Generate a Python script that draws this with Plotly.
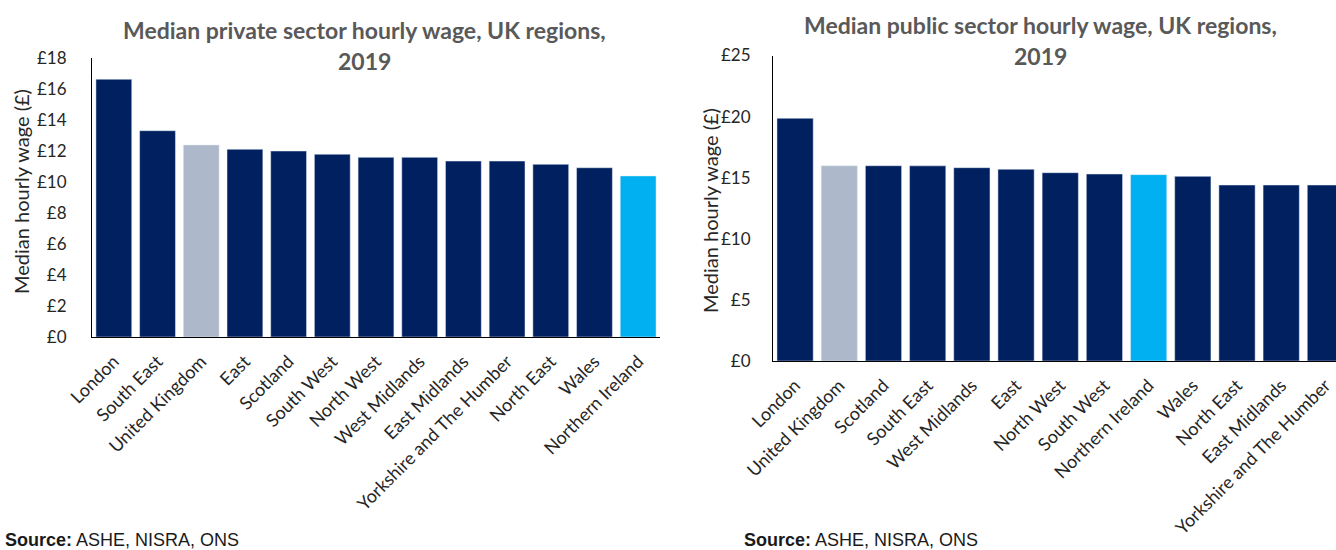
import plotly.graph_objects as go

# Median private sector hourly wage by region, 2019 (£)
private_regions = ["London", "South East", "United Kingdom", "East", "Scotland",
                   "South West", "North West", "West Midlands", "East Midlands",
                   "Yorkshire and The Humber", "North East", "Wales", "Northern Ireland"]
private_wage = [16.63, 13.31, 12.39, 12.11, 12.00, 11.79, 11.59, 11.59, 11.35,
                11.35, 11.14, 10.92, 10.39]

# Median public sector hourly wage by region, 2019 (£)
public_regions = ["London", "United Kingdom", "Scotland", "South East", "West Midlands",
                  "East", "North West", "South West", "Northern Ireland", "Wales",
                  "North East", "East Midlands", "Yorkshire and The Humber"]
public_wage = [19.86, 15.98, 15.98, 15.97, 15.82, 15.69, 15.41, 15.30, 15.25,
               15.11, 14.40, 14.40, 14.40]

private_ticks = [0, 2, 4, 6, 8, 10, 12, 14, 16, 18]
public_ticks = [0, 5, 10, 15, 20, 25]

NAVY = "#002060"
UK_GREY = "#ADB9CA"
NI_BLUE = "#00B0F0"


def bar_colours(regions):
    out = []
    for r in regions:
        if r == "United Kingdom":
            out.append(UK_GREY)
        elif r == "Northern Ireland":
            out.append(NI_BLUE)
        else:
            out.append(NAVY)
    return out


W, H = 1336, 550
FONT = "Lato, Calibri, Carlito, sans-serif"

fig = go.Figure()
fig.add_trace(go.Bar(x=private_regions, y=private_wage, marker_color=bar_colours(private_regions),
                     xaxis="x", yaxis="y", showlegend=False))
fig.add_trace(go.Bar(x=public_regions, y=public_wage, marker_color=bar_colours(public_regions),
                     xaxis="x2", yaxis="y2", showlegend=False))


def px(x):
    return x / W


def py(y):
    return 1 - y / H


y_common = dict(showgrid=False, zeroline=False, showline=True, linecolor="black",
                linewidth=1, ticks="", automargin=False,
                tickfont=dict(family=FONT, size=17, color="#262626"))
x_common = dict(showgrid=False, zeroline=False, showline=True, linecolor="black",
                linewidth=1, ticks="", automargin=False, tickangle=-45,
                ticklabelstandoff=6, tickfont=dict(family=FONT, size=18, color="#262626"))

fig.update_layout(
    width=W, height=H, margin=dict(l=0, r=0, t=0, b=0, autoexpand=False),
    paper_bgcolor="white", plot_bgcolor="white", bargap=0.18,
    xaxis=dict(domain=[px(92), px(660)], anchor="y", range=[-0.5, 12.5], **x_common),
    yaxis=dict(domain=[py(337), py(58)], anchor="x", range=[0, 18],
               tickvals=private_ticks, ticktext=[f"£{v}" for v in private_ticks],
               ticklabelstandoff=21, **y_common),
    xaxis2=dict(domain=[px(773), 1], anchor="y2", range=[-0.5, 12.24], **x_common),
    yaxis2=dict(domain=[py(361), py(55.5)], anchor="x2", range=[0, 25],
                tickvals=public_ticks, ticktext=[f"£{v}" for v in public_ticks],
                ticklabelstandoff=18, **y_common),
)

title_font = dict(family=FONT, size=23, color="#595959")
ann = [
    dict(text="<b>Median private sector hourly wage, UK regions,</b>", x=px(365), y=py(30)),
    dict(text="<b>2019</b>", x=px(365), y=py(61)),
    dict(text="<b>Median public sector hourly wage, UK regions,</b>", x=px(1040), y=py(25)),
    dict(text="<b>2019</b>", x=px(1040), y=py(56)),
]
for a in ann:
    fig.add_annotation(xref="paper", yref="paper", showarrow=False, xanchor="center",
                       yanchor="middle", font=title_font, **a)

axis_title_font = dict(family=FONT, size=20, color="#262626")
fig.add_annotation(text="Median hourly wage (£)", xref="paper", yref="paper", x=px(21), y=py(192),
                   xanchor="center", yanchor="middle",
                   textangle=-90, showarrow=False, font=axis_title_font)
fig.add_annotation(text="Median hourly wage (£)", xref="paper", yref="paper", x=px(710), y=py(211),
                   xanchor="center", yanchor="middle",
                   textangle=-90, showarrow=False, font=axis_title_font)

source_font = dict(family="Liberation Sans, Arial, sans-serif", size=18, color="#1a1a1a")
for sx in (3, 742):
    fig.add_annotation(text="<b>Source:</b> ASHE, NISRA, ONS", xref="paper", yref="paper",
                       x=px(sx), y=py(540), xanchor="left", yanchor="middle",
                       showarrow=False, font=source_font)

fig.write_html("out.html")
